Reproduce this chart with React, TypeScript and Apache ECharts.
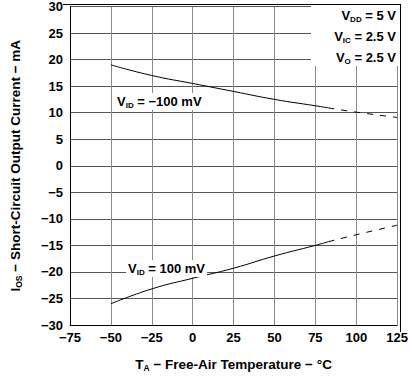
import React, { useEffect, useRef } from "react";
import * as echarts from "echarts";

const xTicks = [-75, -50, -25, 0, 25, 50, 75, 100, 125];
const yTicks = [-30, -25, -20, -15, -10, -5, 0, 5, 10, 15, 20, 25, 30];

const negSolid: [number, number][] = [
  [-50, 19.0], [-25, 17.0], [0, 15.5], [25, 14.0], [50, 12.5], [75, 11.3], [83, 10.9],
];
const negDashed: [number, number][] = [
  [83, 10.9], [100, 10.1], [125, 9.1],
];
const posSolid: [number, number][] = [
  [-50, -26.0], [-25, -23.2], [0, -21.2], [25, -19.3], [50, -17.0], [75, -15.0], [83, -14.3],
];
const posDashed: [number, number][] = [
  [83, -14.3], [100, -13.0], [125, -11.2],
];

const FONT = "'Liberation Sans', Arial, Helvetica, sans-serif";
const minus = (v: number) => String(v).replace("-", "\u2212");

const mkRich = (size: number, sub: number, pad: number) => ({
  m: { fontFamily: FONT, fontWeight: "bold" as const, fontSize: size, color: "#000" },
  s: { fontFamily: FONT, fontWeight: "bold" as const, fontSize: sub, color: "#000", padding: [pad, 0, 0, 0] },
});
const rich = mkRich(13, 8, 7);
const titleRich = mkRich(13.5, 8.5, 7);

export default function App() {
  const ref = useRef<HTMLDivElement>(null);
  useEffect(() => {
    if (!ref.current) return;
    const chart = echarts.init(ref.current, undefined, { renderer: "svg" });
    const line = (data: [number, number][], dashed: boolean) => ({
      type: "line",
      data,
      smooth: true,
      showSymbol: false,
      symbol: "none",
      lineStyle: { color: "#000", width: 1, type: dashed ? [6, 7] : "solid" },
      z: 5,
    });
    chart.setOption({
      animation: false,
      grid: { left: 63, right: 11, top: 4, bottom: 45 },
      xAxis: {
        type: "value",
        min: -75,
        max: 125,
        interval: 25,
        name: "{m|T}{s|A}{m| \u2212 Free-Air Temperature \u2212 \u00b0C}",
        nameLocation: "middle",
        nameGap: 31,
        nameTextStyle: { rich: titleRich },
        axisLine: { show: true, onZero: false, lineStyle: { color: "#000", width: 1 } },
        axisTick: { show: false },
        splitLine: { show: true, lineStyle: { color: "#8a8a8a", width: 1 } },
        axisLabel: {
          formatter: (v: number) => minus(v),
          fontFamily: FONT,
          fontWeight: "bold",
          fontSize: 13,
          color: "#000",
          margin: 6,
        },
      },
      yAxis: {
        type: "value",
        min: -30,
        max: 30,
        interval: 5,
        name: "{m|I}{s|OS}{m| \u2212 Short-Circuit Output Current \u2212 mA}",
        nameLocation: "middle",
        nameGap: 47,
        nameTextStyle: { rich: titleRich },
        axisLine: { show: true, onZero: false, lineStyle: { color: "#000", width: 1 } },
        axisTick: { show: false },
        splitLine: { show: true, lineStyle: { color: "#555", width: 1 } },
        axisLabel: {
          formatter: (v: number) => minus(v),
          fontFamily: FONT,
          fontWeight: "bold",
          fontSize: 13,
          color: "#000",
          margin: 7,
        },
      },
      series: [
        line(negSolid, false),
        line(negDashed, true),
        line(posSolid, false),
        line(posDashed, true),
      ],
      graphic: [
        {
          type: "rect",
          shape: { x: 311, y: 5, width: 88, height: 61 },
          style: { fill: "#fff" },
          z: 10,
        },
        {
          type: "rect",
          shape: { x: 400, y: 4, width: 1, height: 328 },
          style: { fill: "#000" },
          z: 11,
        },
        {
          type: "rect",
          shape: { x: 63, y: 4, width: 338, height: 1 },
          style: { fill: "#000" },
          z: 11,
        },
        {
          type: "text",
          x: 396,
          y: 8,
          style: { text: "{m|V}{s|DD}{m| = 5 V}", rich, align: "right" },
          z: 12,
        },
        {
          type: "text",
          x: 396,
          y: 29,
          style: { text: "{m|V}{s|IC}{m| = 2.5 V}", rich, align: "right" },
          z: 12,
        },
        {
          type: "text",
          x: 396,
          y: 50,
          style: { text: "{m|V}{s|O}{m| = 2.5 V}", rich, align: "right" },
          z: 12,
        },
        {
          type: "text",
          x: 115,
          y: 93,
          style: { text: "{m|V}{s|ID}{m| = \u2212100 mV}", rich, backgroundColor: "#fff", padding: [1, 2, 1, 2] },
          z: 12,
        },
        {
          type: "text",
          x: 126,
          y: 260,
          style: { text: "{m|V}{s|ID}{m| = 100 mV}", rich, backgroundColor: "#fff", padding: [1, 2, 1, 2] },
          z: 12,
        },
      ],
    });
    return () => chart.dispose();
  }, []);
  return (
    <div
      ref={ref}
      style={{ position: "fixed", left: 0, top: 0, width: 411, height: 377, background: "#fff" }}
    />
  );
}
